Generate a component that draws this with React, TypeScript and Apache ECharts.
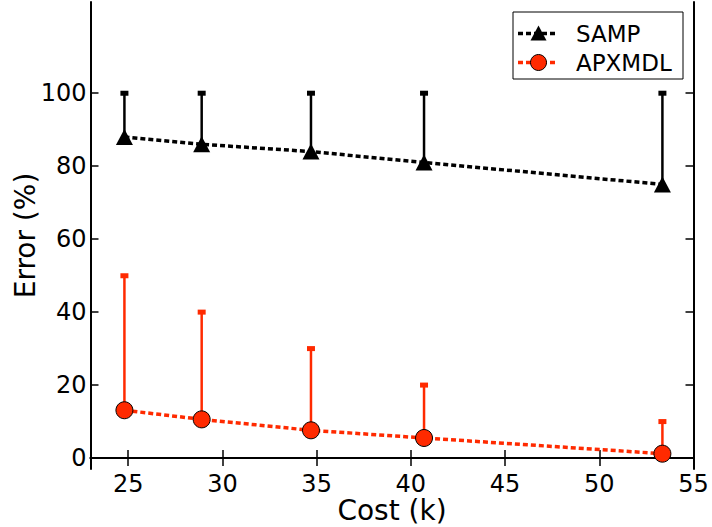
import React, { useEffect, useRef } from "react";
import * as echarts from "echarts";

const costK = [24.8, 28.9, 34.7, 40.7, 53.35];
const sampError = [88, 86, 84, 81, 75];
const sampUpper = [100, 100, 100, 100, 100];
const apxError = [13.1, 10.6, 7.6, 5.5, 1.2];
const apxUpper = [50, 40, 30, 20, 10];
const xTicks = [25, 30, 35, 40, 45, 50, 55];
const yTicks = [0, 20, 40, 60, 80, 100];

const RED = "#ff2a00";
const FONT = "DejaVu Sans";

export default function App() {
  const ref = useRef<HTMLDivElement>(null);
  useEffect(() => {
    if (!ref.current) return;
    const chart = echarts.init(ref.current, null, { renderer: "svg" });

    const errSeries = (vals: number[], ups: number[], color: string) => ({
      type: "custom",
      z: 2,
      data: costK.map((x, i) => [x, vals[i], ups[i]]),
      encode: { x: 0, y: 1 },
      renderItem: (params: any, api: any) => {
        const x = api.value(0);
        const y = api.value(1);
        const u = api.value(2);
        const p0 = api.coord([x, y]);
        const p1 = api.coord([x, u]);
        return {
          type: "group",
          children: [
            {
              type: "line",
              shape: { x1: p0[0], y1: p0[1], x2: p1[0], y2: p1[1] },
              style: { stroke: color, lineWidth: 2.5 },
            },
            {
              type: "rect",
              shape: { x: p1[0] - 4, y: p1[1] - 2.5, width: 8, height: 5 },
              style: { fill: color },
            },
          ],
        };
      },
    });

    const axisCommon = {
      type: "value",
      axisLine: { show: true, lineStyle: { color: "#000", width: 2 } },
      splitLine: { show: false },
      nameMoveOverlap: false,
    };

    chart.setOption({
      animation: false,
      grid: { left: 90.5, right: 18.5, top: 2, bottom: 58, containLabel: false, outerBoundsMode: "none" },
      xAxis: [
        {
          ...axisCommon,
          min: 23,
          max: 55,
          position: "bottom",
          axisTick: { show: true, inside: true, length: 8, customValues: xTicks, lineStyle: { color: "#000", width: 1.5 } },
          axisLabel: { customValues: xTicks, color: "#000", fontSize: 24, lineHeight: 22, fontFamily: FONT, margin: 4 },
          name: "Cost (k)",
          nameLocation: "middle",
          nameGap: 28,
          nameTextStyle: { color: "#000", fontSize: 28, lineHeight: 27, fontFamily: FONT },
        },
        {
          ...axisCommon,
          min: 23,
          max: 55,
          position: "top",
          axisTick: { show: true, inside: true, length: 8, customValues: xTicks, lineStyle: { color: "#000", width: 1.5 } },
          axisLabel: { show: false },
        },
      ],
      yAxis: [
        {
          ...axisCommon,
          min: -3,
          max: 125,
          position: "left",
          axisTick: { show: true, inside: true, length: 8, customValues: yTicks, lineStyle: { color: "#000", width: 1.5 } },
          axisLabel: { customValues: yTicks, color: "#000", fontSize: 24, fontFamily: FONT, margin: 4 },
          name: "Error (%)",
          nameLocation: "middle",
          nameGap: 51,
          nameTextStyle: { color: "#000", fontSize: 28, fontFamily: FONT },
        },
        {
          ...axisCommon,
          min: -3,
          max: 125,
          position: "right",
          axisTick: { show: true, inside: true, length: 8, customValues: yTicks, lineStyle: { color: "#000", width: 1.5 } },
          axisLabel: { show: false },
        },
      ],
      series: [
        errSeries(sampError, sampUpper, "#000"),
        errSeries(apxError, apxUpper, RED),
        {
          type: "line",
          name: "SAMP",
          z: 3,
          data: costK.map((x, i) => [x, sampError[i]]),
          symbol: "triangle",
          symbolSize: [17, 16],
          itemStyle: { color: "#000" },
          lineStyle: { color: "#000", width: 3.5, type: [5, 3] },
        },
        {
          type: "line",
          name: "APXMDL",
          z: 3,
          data: costK.map((x, i) => [x, apxError[i]]),
          symbol: "circle",
          symbolSize: 17,
          itemStyle: { color: RED, borderColor: "#000", borderWidth: 1 },
          lineStyle: { color: RED, width: 3.5, type: [5, 3] },
        },
      ],
      graphic: [
        {
          type: "rect",
          shape: { x: 513, y: 12, width: 170, height: 67 },
          style: { fill: "#fff", stroke: "#000", lineWidth: 1 },
          z: 10,
        },
        {
          type: "line",
          shape: { x1: 518, y1: 33.5, x2: 557, y2: 33.5 },
          style: { stroke: "#000", lineWidth: 3.5, lineDash: [5, 3] },
          z: 11,
        },
        {
          type: "polygon",
          shape: { points: [[538.5, 25.5], [546.5, 40.5], [530.5, 40.5]] },
          style: { fill: "#000" },
          z: 12,
        },
        {
          type: "text",
          x: 576,
          y: 33.5,
          style: { text: "SAMP", font: `23px "${FONT}"`, fill: "#000", verticalAlign: "middle" },
          z: 12,
        },
        {
          type: "line",
          shape: { x1: 518, y1: 62.5, x2: 557, y2: 62.5 },
          style: { stroke: RED, lineWidth: 3.5, lineDash: [5, 3] },
          z: 11,
        },
        {
          type: "circle",
          shape: { cx: 538.5, cy: 62.5, r: 8 },
          style: { fill: RED, stroke: "#000", lineWidth: 1 },
          z: 12,
        },
        {
          type: "text",
          x: 576,
          y: 62.5,
          style: { text: "APXMDL", font: `23px "${FONT}"`, fill: "#000", verticalAlign: "middle" },
          z: 12,
        },
      ],
    });
    return () => chart.dispose();
  }, []);
  return <div ref={ref} style={{ width: 712, height: 527, position: "absolute", left: 0, top: 0 }} />;
}
